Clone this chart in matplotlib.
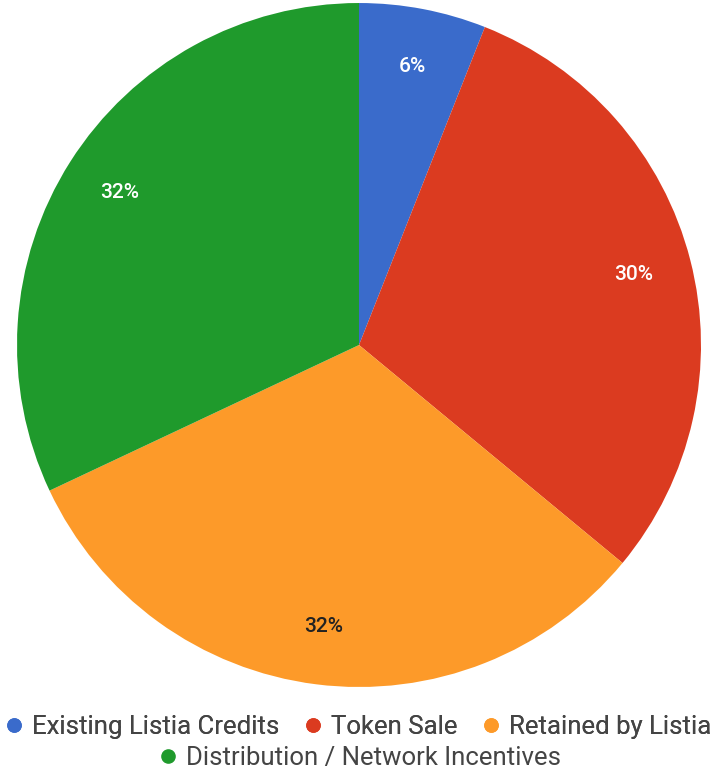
import matplotlib
matplotlib.use("Agg")
from matplotlib import pyplot as plt
from matplotlib.lines import Line2D

labels = ["Existing Listia Credits", "Token Sale", "Retained by Listia",
          "Distribution / Network Incentives"]
shares = [6, 30, 32, 32]
colors = ["#3a6bcb", "#db3b20", "#fd9a29", "#1f9a2c"]
text_colors = ["white", "white", "#222222", "white"]

plt.rcParams["font.family"] = ["Roboto", "DejaVu Sans"]

fig = plt.figure(figsize=(7.15, 7.72), dpi=100)
ax = fig.add_axes([0.0238, 0.1101, 0.9566, 0.886])

wedges, texts, autotexts = ax.pie(
    shares, colors=colors, startangle=90, counterclock=False,
    autopct="%d%%", pctdistance=0.83, radius=1.0,
    wedgeprops={"linewidth": 0},
    textprops={"fontsize": 15, "fontweight": "medium"},
)
for t, c in zip(autotexts, text_colors):
    t.set_color(c)
ax.set_xlim(-1, 1)
ax.set_ylim(-1, 1)
ax.set_aspect("equal")
ax.axis("off")


def handle(c):
    return Line2D([], [], marker="o", linestyle="", markersize=9.5,
                  markerfacecolor=c, markeredgecolor=c)


leg1 = fig.legend([handle(c) for c in colors[:3]], labels[:3], ncol=3,
                  loc="center", bbox_to_anchor=(0.5, 1 - 727 / 772),
                  frameon=False, fontsize=18.5, handletextpad=0.3,
                  columnspacing=0.9, handlelength=0.8, labelcolor="#444444",
                  borderpad=0, borderaxespad=0)
fig.add_artist(leg1)
fig.legend([handle(colors[3])], labels[3:], loc="center",
           bbox_to_anchor=(0.503, 1 - 758 / 772), frameon=False,
           fontsize=18.5, handletextpad=0.3, handlelength=0.8,
           labelcolor="#444444", borderpad=0, borderaxespad=0)

fig.savefig("out.png", dpi=100)
